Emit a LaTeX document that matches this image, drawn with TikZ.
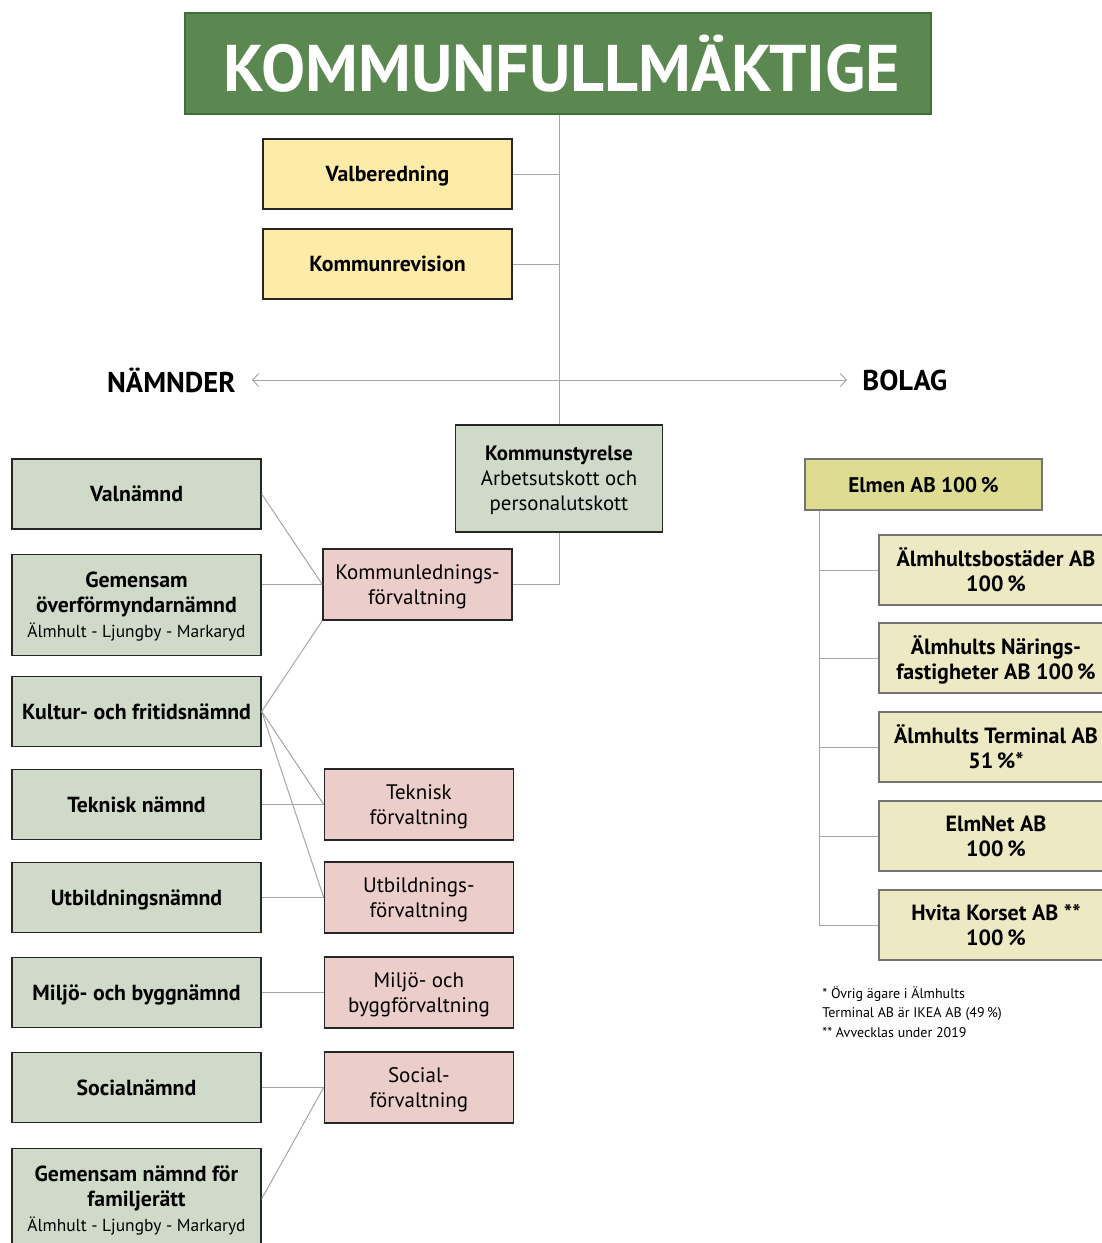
\documentclass[tikz,border=0pt]{standalone}
\usepackage{fontspec}
\setmainfont{PT Sans}
\usepackage{tikz}
\usetikzlibrary{positioning, arrows.meta}

\definecolor{fullgron}{HTML}{5B8750}
\definecolor{fullkant}{HTML}{3E7035}
\definecolor{valgul}{HTML}{FDECA8}
\definecolor{namndgron}{HTML}{CFDAC8}
\definecolor{forvrosa}{HTML}{EBCDCA}
\definecolor{elmengul}{HTML}{DEDC90}
\definecolor{bolaggul}{HTML}{ECE9C3}
\definecolor{linjegra}{HTML}{A6A6A6}

\newcommand{\orter}{{\mdseries\fontsize{8.7}{12.5}\selectfont Älmhult - Ljungby - Markaryd}}

\begin{document}
\begin{tikzpicture}  [
        x = 0.5pt, y = -0.5pt,
        node distance = 11.8pt,
        box/.style = {rectangle, draw=black!85, line width=0.7pt, align=center, inner sep=2pt, text depth=-1.5pt},
        namnd/.style = {box, fill=namndgron, minimum width=124.5pt, minimum height=35pt, font=\fontsize{10.9}{12.5}\selectfont\bfseries},
        forv/.style = {box, fill=forvrosa, minimum width=94.5pt, minimum height=35.5pt, font=\fontsize{10.5}{12.5}\selectfont},
        valbox/.style = {box, fill=valgul, minimum width=124.5pt, minimum height=35pt, font=\fontsize{10.9}{12.5}\selectfont\bfseries},
        bolagbox/.style = {box, draw=black!55, fill=bolaggul, minimum width=117pt, minimum height=35pt, font=\fontsize{11}{12.5}\selectfont\bfseries},
        rubrik/.style = {inner sep=0pt, font=\fontsize{14.3}{16}\selectfont\bfseries},
        linje/.style = {draw=linjegra, line width=0.5pt}
    ]
    \useasboundingbox (0,0) rectangle (1102,1243);

    % toppen
    \node[box, draw=fullkant, fill=fullgron, text=white, minimum width=373pt, minimum height=50.5pt,
          text depth=0pt, font=\fontsize{33}{36}\selectfont\bfseries] (kf) at (558,63.5) {\hspace*{4pt}KOMMUNFULLMÄKTIGE};
    \node[valbox] (valb) at (387.5,174) {Valberedning};
    \node[valbox] (krev) at (387.5,264) {Kommunrevision};
    \node[namnd, font=\fontsize{10.4}{12.5}\selectfont, minimum width=103.5pt, minimum height=53.5pt]
          (ks) at (559,478.5) {\textbf{Kommunstyrelse}\\Arbetsutskott och\\personalutskott};

    \node[rubrik, anchor=east] (namnder) at (236,380) {NÄMNDER};
    \node[rubrik, anchor=west] (bolag)   at (862,380) {BOLAG};

    % nämnder
    \node[namnd] (valn) at (136.5,494) {Valnämnd};
    \node[namnd, minimum height=50.5pt, below = 12pt of valn] (overf)
          {Gemensam\\överförmyndarnämnd\\\orter};
    \node[namnd, below = 9.8pt of overf] (kultur) {Kultur- och fritidsnämnd};
    \node[namnd, below = 10.8pt of kultur] (teknn) {Teknisk nämnd};
    \node[namnd, below = 10.8pt of teknn] (utbn) {Utbildningsnämnd};
    \node[namnd, below = of utbn] (miljon) {Miljö- och byggnämnd};
    \node[namnd, below = of miljon] (socn) {Socialnämnd};
    \node[namnd, minimum height=50.5pt, below = 12.3pt of socn] (famn)
          {Gemensam nämnd för\\familjerätt\\\orter};

    % förvaltningar
    \node[forv] (klf) at (417.5,584.5) {Kommunlednings-\\förvaltning};
    \node[forv, right = 31pt of teknn]  (tekf)   {Teknisk\\förvaltning};
    \node[forv, right = 31pt of utbn]   (utbf)   {Utbildnings-\\förvaltning};
    \node[forv, right = 31pt of miljon] (miljof) {Miljö- och\\byggförvaltning};
    \node[forv, right = 31pt of socn]   (socf)   {Social-\\förvaltning};

    % bolag
    \node[bolagbox, fill=elmengul, minimum width=118.5pt, minimum height=25.5pt, font=\fontsize{10.6}{12.5}\selectfont\bfseries]
          (elmen) at (923.5,484.5) {Elmen AB 100\,\%};
    \node[bolagbox] (bost) at (996,570) {Älmhultsbostäder AB\\100\,\%};
    \node[bolagbox, below = 8.3pt of bost]     (naring)   {Älmhults Närings-\\fastigheter AB 100\,\%};
    \node[bolagbox, below = 8.8pt of naring]   (terminal) {Älmhults Terminal AB\\51\,\%*};
    \node[bolagbox, below = 8.8pt of terminal] (elmnet)   {ElmNet AB\\100\,\%};
    \node[bolagbox, below = 8.8pt of elmnet]   (hvita)    {Hvita Korset AB **\\100\,\%};

    \node[anchor=north west, align=left, inner sep=0pt, font=\fontsize{7}{9.75}\selectfont]
          (fotnot) at (822,986) {* Övrig ägare i Älmhults\\Terminal AB är IKEA AB (49\,\%)\\** Avvecklas under 2019};

    % linjer
    \draw[linje] (ks.north |- kf.south) -- (ks.north);
    \draw[linje] (valb.east) -- (valb.east -| ks.north);
    \draw[linje] (krev.east) -- (krev.east -| ks.north);
    \draw[linje, {Straight Barb[length=3pt, width=6.5pt]}-{Straight Barb[length=3pt, width=6.5pt]}]
          ([xshift=8pt]namnder.east) -- ([xshift=-7.5pt]bolag.west);
    \draw[linje] (klf.east) -- (klf.east -| ks.south) -- (ks.south);

    \draw[linje] (valn.east) -- (klf.west);
    \draw[linje] (klf.west -| overf.east) -- (klf.west);
    \draw[linje] (kultur.east) -- (klf.south west);
    \draw[linje] (kultur.east) -- (tekf.west);
    \draw[linje] (kultur.east) -- (utbf.west);
    \draw[linje] (teknn.east) -- (tekf.west);
    \draw[linje] (utbn.east) -- (utbf.west);
    \draw[linje] (miljon.east) -- (miljof.west);
    \draw[linje] (socn.east) -- (socf.west);
    \draw[linje] (famn.east) -- (socf.west);

    \draw[linje] (elmen.south west) ++(15,0) coordinate (stam) |- (hvita.west);
    \foreach \b in {bost, naring, terminal, elmnet}
        \draw[linje] (stam |- \b.west) -- (\b.west);

\end{tikzpicture}
\end{document}
